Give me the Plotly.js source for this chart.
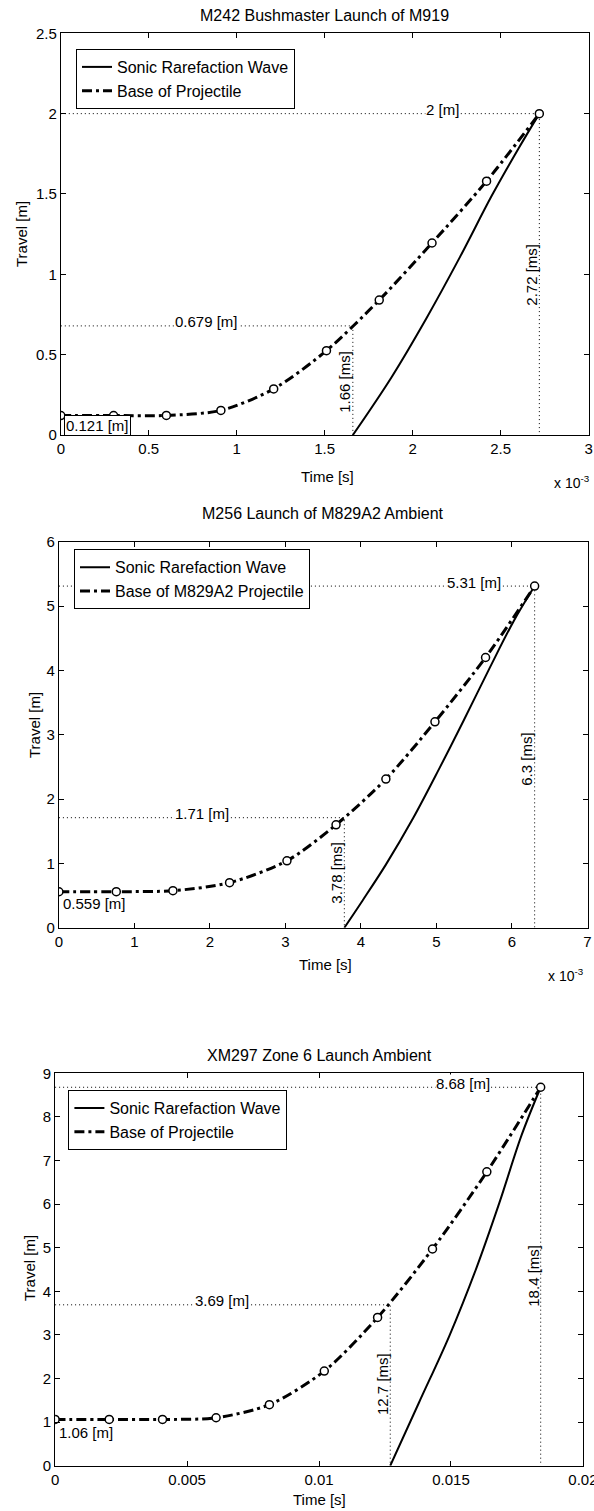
<!DOCTYPE html>
<html>
<head>
<meta charset="utf-8">
<script src="https://cdn.plot.ly/plotly-3.0.1.min.js"></script>
<style>html,body{margin:0;padding:0;background:#fff;}#chart{width:594px;height:1511px;}</style>
</head>
<body>
<div id="chart"></div>
<script>
// ---------- Panel 1: M242 Bushmaster Launch of M919 (time in ms) ----------
const m919Time = [0, 0.30, 0.60, 0.91, 1.21, 1.51, 1.81, 2.11, 2.42, 2.72];
const m919Base = [0.121, 0.121, 0.122, 0.153, 0.287, 0.525, 0.84, 1.195, 1.58, 2.0];
const m919WaveTime = [1.66, 1.88, 2.08, 2.27, 2.45, 2.60, 2.72];
const m919Wave = [0, 0.36, 0.73, 1.11, 1.49, 1.78, 2.0];
const m919MarkTime = [1.66, 2.72];
const m919MarkTravel = [0.679, 2];

// ---------- Panel 2: M256 Launch of M829A2 Ambient (time in ms) ----------
const m829Time = [0, 0.76, 1.51, 2.26, 3.02, 3.67, 4.33, 4.98, 5.65, 6.3];
const m829Base = [0.559, 0.56, 0.575, 0.70, 1.04, 1.60, 2.31, 3.20, 4.20, 5.31];
const m829WaveTime = [3.78, 4.02, 4.33, 4.69, 5.04, 5.36, 5.71, 6.02, 6.3];
const m829Wave = [0, 0.42, 0.98, 1.70, 2.48, 3.22, 4.05, 4.76, 5.31];
const m829MarkTime = [3.78, 6.3];
const m829MarkTravel = [1.71, 5.31];

// ---------- Panel 3: XM297 Zone 6 Launch Ambient (time in s) ----------
const xm297Time = [0, 0.00205, 0.00407, 0.0061, 0.00812, 0.0102, 0.01222, 0.0143, 0.01636, 0.0184];
const xm297Base = [1.06, 1.06, 1.06, 1.10, 1.40, 2.17, 3.40, 4.97, 6.74, 8.68];
const xm297WaveTime = [0.0127, 0.01379, 0.01494, 0.01595, 0.01684, 0.01767, 0.0184];
const xm297Wave = [0, 1.45, 2.98, 4.51, 6.04, 7.57, 8.68];
const xm297MarkTime = [0.0127, 0.0184];
const xm297MarkTravel = [3.69, 8.68];

const titles = ["M242 Bushmaster Launch of M919", "M256 Launch of M829A2 Ambient", "XM297 Zone 6 Launch Ambient"];
const waveName = "Sonic Rarefaction Wave";
const baseNames = ["Base of Projectile", "Base of M829A2 Projectile", "Base of Projectile"];
const xTitle = "Time [s]";
const yTitle = "Travel [m]";

const FONT = "Liberation Sans, Arial, Helvetica, sans-serif";
const W = 594, H = 1511;
const px = v => v / W;
const py = v => 1 - v / H;

const panels = [
  {t: m919Time, b: m919Base, wt: m919WaveTime, w: m919Wave, mt: m919MarkTime, mv: m919MarkTravel,
   msScale: 1, xs: '', xr: [0, 3], xd: 0.5, yr: [0, 2.5], yd: 0.5,
   dom: {x: [60.8, 588.6], y: [33.3, 435]}, leg: [76, 49], titleY: 15,
   xTitleY: 476, xTitleX: 327, yTitleX: 21, yTitleY: 234, exp: [592, 482],
   hLabX: [0.83, 2.17], vLabY: [0.33, 1.0], startY: 0.06, startBox: true},
  {t: m829Time, b: m829Base, wt: m829WaveTime, w: m829Wave, mt: m829MarkTime, mv: m829MarkTravel,
   msScale: 1, xs: '2', xr: [0, 7], xd: 1, yr: [0, 6], yd: 1,
   dom: {x: [58.9, 587.5], y: [541.7, 927.7]}, leg: [74, 549.3], titleY: 513,
   xTitleY: 965, xTitleX: 325, yTitleX: 34, yTitleY: 725, exp: [586, 975],
   hLabX: [1.9, 5.5], vLabY: [0.86, 2.62], startY: 0.38, startBox: false},
  {t: xm297Time, b: xm297Base, wt: xm297WaveTime, w: xm297Wave, mt: xm297MarkTime, mv: xm297MarkTravel,
   msScale: 1000, xs: '3', xr: [0, 0.02], xd: 0.005, yr: [0, 9], yd: 1,
   dom: {x: [55.1, 582.9], y: [1073.3, 1465.7]}, leg: [68.4, 1090], titleY: 1055,
   xTitleY: 1499, xTitleX: 319, yTitleX: 29, yTitleY: 1268, exp: null,
   hLabX: [0.00631, 0.01546], vLabY: [1.88, 4.35], startY: 0.77, startBox: false}
];

const data = [];
const annotations = [];
const layout = {
  width: W, height: H, margin: {l: 0, r: 0, t: 0, b: 0},
  paper_bgcolor: '#fff', plot_bgcolor: '#fff',
  font: {family: FONT, size: 15, color: '#000'},
  showlegend: true
};

panels.forEach((p, i) => {
  const xa = 'x' + p.xs, ya = 'y' + p.xs;
  const legId = i === 0 ? 'legend' : 'legend' + (i + 1);
  // reference dotted lines
  p.mt.forEach((t, k) => {
    data.push({x: [0, t, t], y: [p.mv[k], p.mv[k], 0], xaxis: xa, yaxis: ya, mode: 'lines',
      line: {color: '#000', width: 1, dash: '1px,3px'}, showlegend: false, hoverinfo: 'skip'});
  });
  // rarefaction wave
  data.push({x: p.wt, y: p.w, xaxis: xa, yaxis: ya, mode: 'lines', name: waveName, legend: legId,
    line: {color: '#000', width: 2, shape: 'spline', smoothing: 1}});
  // base of projectile
  data.push({x: p.t, y: p.b, xaxis: xa, yaxis: ya, mode: 'lines', name: baseNames[i], legend: legId,
    line: {color: '#000', width: 3, dash: '10px,4px,3px,4px', shape: 'spline', smoothing: 0.8}});
  data.push({x: p.t, y: p.b, xaxis: xa, yaxis: ya, mode: 'markers', showlegend: false,
    marker: {symbol: 'circle', size: 8, color: '#fff', line: {color: '#000', width: 1.5}}});

  const axCommon = {showline: true, linecolor: '#000', linewidth: 1, mirror: 'ticks', ticks: 'inside',
    ticklen: 5, tickcolor: '#000', showgrid: false, zeroline: false, fixedrange: true,
    ticklabeloverflow: 'allow', tickfont: {family: FONT, size: 15, color: '#000'}};
  layout['xaxis' + p.xs] = Object.assign({}, axCommon, {domain: [px(p.dom.x[0]), px(p.dom.x[1])],
    range: p.xr, dtick: p.xd, tick0: 0, anchor: ya});
  layout['yaxis' + p.xs] = Object.assign({}, axCommon, {domain: [py(p.dom.y[1]), py(p.dom.y[0])],
    range: p.yr, dtick: p.yd, tick0: 0, anchor: xa});
  layout[legId] = {x: px(p.leg[0]), y: py(p.leg[1]), xanchor: 'left', yanchor: 'top', xref: 'paper', yref: 'paper',
    bgcolor: '#fff', bordercolor: '#000', borderwidth: 1, itemwidth: 30,
    font: {family: FONT, size: 16, color: '#000'}, tracegroupgap: 0};

  // panel title
  annotations.push({xref: 'paper', yref: 'paper', x: px((p.dom.x[0] + p.dom.x[1]) / 2), y: py(p.titleY),
    xanchor: 'center', yanchor: 'middle', showarrow: false, text: titles[i], font: {size: 16}});
  // axis titles
  annotations.push({xref: 'paper', yref: 'paper', x: px(p.xTitleX), y: py(p.xTitleY),
    xanchor: 'center', yanchor: 'middle', showarrow: false, text: xTitle, font: {size: 15}});
  annotations.push({xref: 'paper', yref: 'paper', x: px(p.yTitleX), y: py(p.yTitleY), textangle: -90,
    xanchor: 'center', yanchor: 'middle', showarrow: false, text: yTitle, font: {size: 15}});
  if (p.exp) {
    annotations.push({xref: 'paper', yref: 'paper', x: px(p.exp[0]), y: py(p.exp[1]),
      xanchor: 'right', yanchor: 'middle', showarrow: false, text: 'x 10<sup>-3</sup>', font: {size: 14}});
  }
  // value labels
  p.mt.forEach((t, k) => {
    annotations.push({xref: xa, yref: ya, x: p.hLabX[k], y: p.mv[k], xanchor: 'center', yanchor: 'middle',
      yshift: 4, showarrow: false, text: p.mv[k] + ' [m]', bgcolor: '#fff', borderpad: 0, font: {size: 15}});
    const ms = +(t * p.msScale).toFixed(3);
    annotations.push({xref: xa, yref: ya, x: t, y: p.vLabY[k], xanchor: 'center', yanchor: 'middle',
      xshift: -8, textangle: -90, showarrow: false, text: ms + ' [ms]', font: {size: 15}});
  });
  annotations.push({xref: xa, yref: ya, x: 0, y: p.startY, xanchor: 'left', yanchor: 'middle', xshift: 3,
    showarrow: false, text: p.b[0] + ' [m]', font: {size: 15},
    bordercolor: p.startBox ? '#000' : 'rgba(0,0,0,0)', borderwidth: p.startBox ? 1 : 0, borderpad: 1,
    bgcolor: p.startBox ? '#fff' : 'rgba(0,0,0,0)'});
});

layout.annotations = annotations;
Plotly.newPlot('chart', data, layout, {staticPlot: true, displayModeBar: false});
</script>
</body>
</html>
